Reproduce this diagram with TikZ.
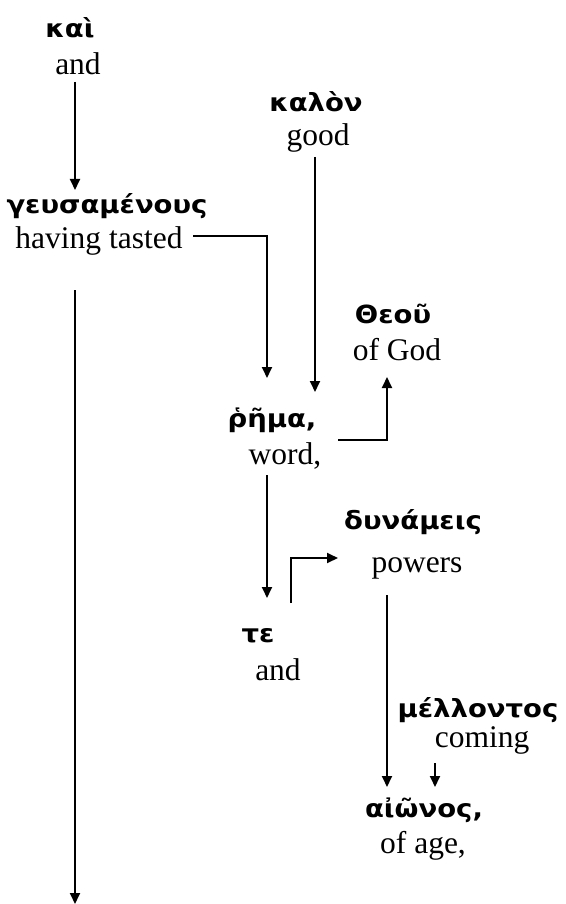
\documentclass[tikz,border=0pt]{standalone}
\usepackage{fontspec}
\setmainfont{Liberation Serif}
\newfontfamily\gkfont[FakeStretch=1.1]{DejaVu Sans}
\usetikzlibrary{arrows.meta}
\begin{document}
\begin{tikzpicture}[x=1pt,y=-1pt,
  gr/.style={inner sep=0pt, anchor=base, font=\gkfont\bfseries\fontsize{25}{25}\selectfont},
  en/.style={inner sep=0pt, anchor=base, font=\fontsize{31.5}{31.5}\selectfont},
  arr/.style={-{Triangle[length=11pt,width=10pt]}, line width=1.8pt}
]
\useasboundingbox (0,0) rectangle (565,904);
% words
\node[gr] (kai) at (70,38) {καὶ};
\node[en] (and1) at (78,75) {and};
\node[gr] (geus) at (107,213) {γευσαμένους};
\node[en] (tasted) at (99,248) {having tasted};
\node[gr] (kalon) at (316,112) {καλὸν};
\node[en] (good) at (318,146) {good};
\node[gr] (theou) at (393,323) {Θεοῦ};
\node[en] (ofgod) at (397,360) {of God};
\node[gr] (rhema) at (272,427) {ῥῆμα,};
\node[en] (word) at (285,464) {word,};
\node[gr] (dyn) at (413,529) {δυνάμεις};
\node[en] (powers) at (417,572) {powers};
\node[gr] (te) at (258,642) {τε};
\node[en] (and2) at (278,680) {and};
\node[gr] (mell) at (478,717) {μέλλοντος};
\node[en] (coming) at (482,747) {coming};
\node[gr] (aion) at (424,817) {αἰῶνος,};
\node[en] (ofage) at (423,853) {of age,};
% connector end points
\coordinate (c1s) at (75,82);
\coordinate (c1e) at (75,190);
\coordinate (c2s) at (193,236);
\coordinate (c2m) at (267,236);
\coordinate (c2e) at (267,378);
\coordinate (c3s) at (315,157);
\coordinate (c3e) at (315,392);
\coordinate (c4s) at (338,440);
\coordinate (c4m) at (387,440);
\coordinate (c4e) at (387,377);
\coordinate (c5s) at (267,475);
\coordinate (c5e) at (267,598);
\coordinate (c6s) at (291,603);
\coordinate (c6m) at (291,558);
\coordinate (c6e) at (338,558);
\coordinate (c7s) at (387,595);
\coordinate (c7e) at (387,787);
\coordinate (c8s) at (435,763);
\coordinate (c8e) at (435,787);
\coordinate (c9s) at (75,290);
\coordinate (c9e) at (75,904);
% connectors
\draw[arr] (c1s) -- (c1e);
\draw[arr] (c2s) -- (c2m) -- (c2e);
\draw[arr] (c3s) -- (c3e);
\draw[arr] (c4s) -- (c4m) -- (c4e);
\draw[arr] (c5s) -- (c5e);
\draw[arr] (c6s) -- (c6m) -- (c6e);
\draw[arr] (c7s) -- (c7e);
\draw[arr] (c8s) -- (c8e);
\draw[arr] (c9s) -- (c9e);
\end{tikzpicture}
\end{document}
